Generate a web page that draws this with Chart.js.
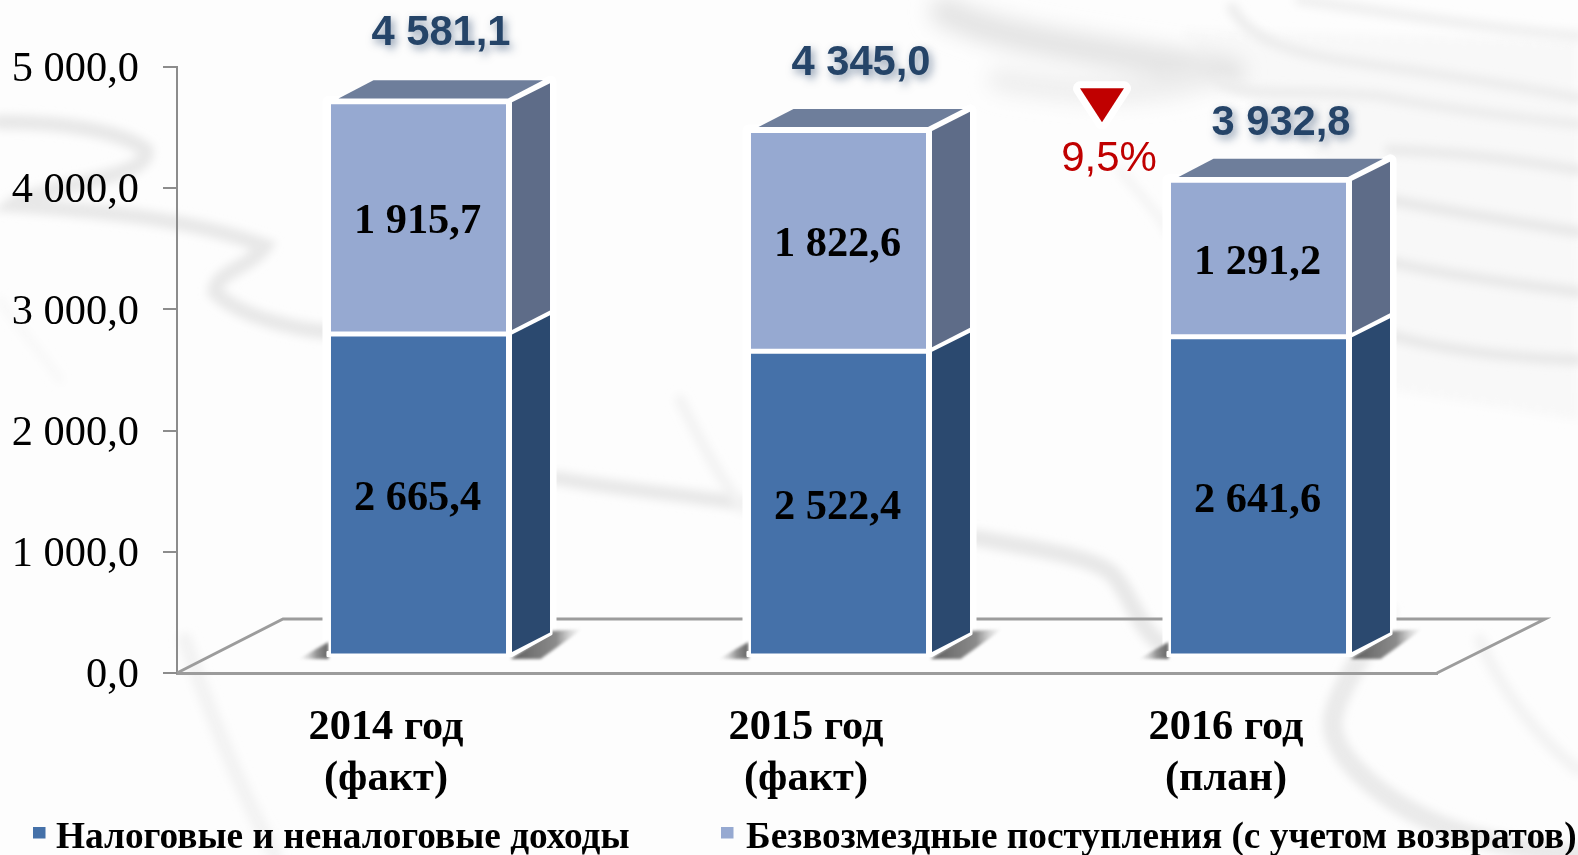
<!DOCTYPE html>
<html lang="ru">
<head>
<meta charset="utf-8">
<title>Доходы бюджета</title>
<script src="https://cdn.jsdelivr.net/npm/chart.js@4"></script>
<style>
html,body{margin:0;padding:0;background:#fdfdfd;overflow:hidden}
#wrap{position:relative;width:1578px;height:855px}
#bg,#c{position:absolute;left:0;top:0}
</style>
</head>
<body>
<div id="wrap">
<svg id="bg" width="1578" height="855" viewBox="0 0 1578 855" xmlns="http://www.w3.org/2000/svg">
  <defs>
    <filter id="b3" x="-10%" y="-10%" width="120%" height="120%"><feGaussianBlur stdDeviation="4"/></filter>
    <filter id="b8" x="-20%" y="-40%" width="140%" height="180%"><feGaussianBlur stdDeviation="10"/></filter>
    <filter id="b1" x="-10%" y="-10%" width="120%" height="120%"><feGaussianBlur stdDeviation="5"/></filter>
    <pattern id="stripes" width="14" height="60" patternUnits="userSpaceOnUse" patternTransform="rotate(6)">
      <rect width="14" height="60" fill="#f6f6f6"/><rect x="2" width="4" height="60" fill="#fbfbfb"/><rect x="9" width="2" height="60" fill="#fafafa"/>
    </pattern>
  </defs>
  <path d="M1180 30 L1578 40 L1578 420 L1390 390 L1385 190 L1330 170 L1240 90 Z" fill="url(#stripes)" filter="url(#b1)"/>
  <g fill="none" stroke-linecap="round" filter="url(#b8)">
    <path d="M945 12 C1000 40 1100 50 1230 72" stroke="#e4e4e4" stroke-width="30"/>
    <path d="M1000 80 C1060 90 1130 100 1200 80" stroke="#eeeeee" stroke-width="24"/>
  </g>
  <g fill="none" stroke="#e8e8e8" stroke-width="11" stroke-linecap="round" filter="url(#b3)">
    <path d="M1232 8 C1250 40 1290 52 1340 60 C1420 72 1500 82 1578 98" stroke="#ededed"/>
    <path d="M1222 80 C1240 100 1300 88 1380 96 C1450 110 1520 118 1578 124" stroke="#ededed"/>
    <path d="M1390 150 C1450 152 1520 160 1578 170" stroke="#eaeaea"/>
    <path d="M1390 200 C1450 212 1520 222 1578 232"/>
    <path d="M1390 262 C1450 276 1520 284 1578 292"/>
    <path d="M1390 335 C1450 352 1520 358 1578 360"/>
    <path d="M1300 0 C1400 14 1500 30 1578 36" stroke="#f0f0f0"/>
    <path d="M0 122 C60 122 120 130 146 150 C150 170 100 178 60 188 C40 195 20 198 12 205 C80 210 180 215 265 246 C250 268 215 272 215 292 C240 318 300 330 330 332" stroke-width="15"/>
    <path d="M556 478 C620 490 690 495 745 504" stroke-width="14"/>
    <path d="M977 538 C1040 550 1085 555 1110 572 C1130 590 1135 625 1162 645" stroke-width="17"/>
    <path d="M1385 612 C1360 660 1340 690 1335 710 C1320 750 1380 800 1440 825 C1480 840 1520 850 1578 855" stroke="#eaeaea" stroke-width="20"/>
    <path d="M0 300 C20 330 40 350 60 380" stroke="#f7f7f7" stroke-width="7"/>
    <path d="M185 640 C205 700 240 790 275 855" stroke="#f3f3f3" stroke-width="15"/>
    <path d="M680 400 C700 440 720 480 745 510" stroke="#f3f3f3" stroke-width="11"/>
    <path d="M1120 170 C1140 195 1160 215 1170 235" stroke="#f4f4f4" stroke-width="9"/>
    <path d="M1480 640 C1500 690 1540 740 1578 770" stroke="#f3f3f3" stroke-width="12"/>
  </g>
</svg>
<canvas id="c" width="1578" height="855"></canvas>
</div>
<script>
const categories = [["2014 год", "(факт)"], ["2015 год", "(факт)"], ["2016 год", "(план)"]];
const taxRevenue = [2665.4, 2522.4, 2641.6];
const grants = [1915.7, 1822.6, 1291.2];
const totals = [4581.1, 4345.0, 3932.8];
const yTickLabels = ["0,0", "1 000,0", "2 000,0", "3 000,0", "4 000,0", "5 000,0"];
const seriesNames = ["Налоговые и неналоговые доходы", "Безвозмездные поступления (с учетом возвратов)"];
const changeLabel = "9,5%";

const SERIF = '"Liberation Serif","Times New Roman",serif';
const SANS = '"Liberation Sans",Arial,sans-serif';
const SHIFT = {x: 31.5, y: -16};
const SIDE_COLORS = ["#2b496f", "#5e6c88"];
const FRONT_COLORS = ["#4571a9", "#96a9d1"];
const fmt = v => { const s = v.toFixed(1).replace(".", ","); const [a, b] = s.split(","); return a.replace(/\B(?=(\d{3})+$)/g, " ") + "," + b; };

function poly(ctx, pts) {
  ctx.beginPath();
  pts.forEach((p, i) => i ? ctx.lineTo(p[0], p[1]) : ctx.moveTo(p[0], p[1]));
  ctx.closePath();
}

const scene3d = {
  id: "scene3d",
  beforeDatasetsDraw(chart) {
    const ctx = chart.ctx, a = chart.chartArea;
    // floor
    ctx.save();
    ctx.strokeStyle = "#9c9c9c"; ctx.lineWidth = 3; ctx.lineJoin = "miter";
    ctx.beginPath();
    ctx.moveTo(a.left, a.bottom);
    ctx.lineTo(a.left + 106, a.bottom - 54);
    ctx.lineTo(a.right + 108, a.bottom - 54);
    ctx.lineTo(a.right, a.bottom);
    ctx.stroke();
    ctx.restore();

    ctx.save();
    ctx.translate(SHIFT.x, SHIFT.y);
    const lower = chart.getDatasetMeta(0).data, upper = chart.getDatasetMeta(1).data;
    lower.forEach((bar, i) => {
      const L = bar.x - bar.width / 2, R = bar.x + bar.width / 2, B = bar.base;
      const T = upper[i].y;
      // white halo of the box
      ctx.strokeStyle = "#ffffff"; ctx.lineWidth = 12; ctx.lineJoin = "round";
      ctx.fillStyle = "#ffffff";
      poly(ctx, [[L, T], [R, T], [R + 42, T - 20], [R + 42, B - 26], [R + 20, B - 16], [L, B - 6]]);
      ctx.stroke(); ctx.fill();
      // ground shadows
      ctx.save();
      ctx.filter = "blur(1.5px)";
      let g = ctx.createLinearGradient(R, 0, R + 74, 0);
      g.addColorStop(0, "rgba(85,85,85,.95)"); g.addColorStop(.65, "rgba(110,110,110,.8)"); g.addColorStop(1, "rgba(190,190,190,0)");
      ctx.fillStyle = g;
      poly(ctx, [[R + 2, B + 3], [R + 43, B - 25], [R + 74, B - 27], [R + 32, B + 3]]);
      ctx.fill();
      g = ctx.createLinearGradient(L - 30, 0, L, 0);
      g.addColorStop(0, "rgba(190,190,190,0)"); g.addColorStop(.6, "rgba(120,120,120,.8)"); g.addColorStop(1, "rgba(90,90,90,.95)");
      ctx.fillStyle = g;
      poly(ctx, [[L, B - 14], [L, B + 3], [L - 30, B + 3]]);
      ctx.fill();
      ctx.restore();
      // white edge below and beside the faces
      ctx.fillStyle = "#ffffff";
      ctx.strokeStyle = "#ffffff"; ctx.lineWidth = 2; ctx.lineJoin = "round";
      poly(ctx, [[L - 1, B - 4], [L - 1, B], [R + 3, B], [R + 43, B - 22], [R + 43, B - 30], [R, B - 30]]);
      ctx.stroke(); ctx.fill();
      // side faces
      [[bar, 0], [upper[i], 1]].forEach(([el, k]) => {
        const top = el.y, bot = el.base;
        const pts = [[R + 3.5, top + .5], [R + 41.5, top - 18.6], [R + 41.5, bot - 23.5], [R + 3.5, bot - 4]];
        ctx.fillStyle = SIDE_COLORS[k];
        poly(ctx, pts); ctx.fill();
      });
      // top face
      ctx.fillStyle = "#6e7e9b";
      poly(ctx, [[L + 10, T - 3.3], [R - .5, T - 3.3], [R + 34.5, T - 21.5], [L + 45, T - 21.5]]);
      ctx.fill();
    });
    // the bars themselves are drawn by Chart.js inside this shifted frame
  },
  afterDatasetsDraw(chart) {
    const ctx = chart.ctx;
    ctx.restore();
    ctx.save();
    ctx.textAlign = "center"; ctx.textBaseline = "middle";
    // segment values
    ctx.fillStyle = "#000";
    ctx.font = "bold 42.4px " + SERIF;
    [taxRevenue, grants].forEach((vals, d) => {
      chart.getDatasetMeta(d).data.forEach((el, i) => {
        const c = el.getCenterPoint();
        ctx.fillText(fmt(vals[i]), c.x + SHIFT.x - 1, c.y + SHIFT.y + 4.5);
      });
    });
    // totals
    const upper = chart.getDatasetMeta(1).data;
    const lift = [69, 68, 58];
    ctx.font = "bold 41.7px " + SANS;
    totals.forEach((t, i) => {
      ctx.save();
      ctx.shadowColor = "rgba(30,60,100,.5)"; ctx.shadowBlur = 8; ctx.shadowOffsetX = 3; ctx.shadowOffsetY = 4;
      ctx.fillStyle = "#254468";
      ctx.fillText(fmt(t), upper[i].x + SHIFT.x + 22.5, upper[i].y + SHIFT.y - lift[i] + 1);
      ctx.restore();
    });
    // decline marker, placed between the last two columns
    const mx = (upper[1].x + upper[2].x) / 2 + 85, my = upper[2].y + SHIFT.y;
    const tri = [[mx - 22, my - 92], [mx + 22, my - 92], [mx, my - 58]];
    ctx.strokeStyle = "#fff"; ctx.lineWidth = 14; ctx.lineJoin = "round";
    poly(ctx, tri); ctx.stroke();
    ctx.fillStyle = "#c00000";
    poly(ctx, tri); ctx.fill();
    ctx.font = "42px " + SANS;
    ctx.fillText(changeLabel, mx + 7, my - 21);
    ctx.restore();
  },
  afterDraw(chart) {
    const ctx = chart.ctx;
    ctx.save();
    ctx.textBaseline = "middle"; ctx.textAlign = "left";
    ctx.font = "bold 37.3px " + SERIF;
    [[33, 56], [721, 746]].forEach(([bx, tx], i) => {
      ctx.fillStyle = FRONT_COLORS[i];
      ctx.fillRect(bx, 827, 12.5, 11.5);
      ctx.fillStyle = "#000";
      ctx.fillText(seriesNames[i], tx, 838);
    });
    ctx.restore();
  }
};

new Chart(document.getElementById("c"), {
  type: "bar",
  data: {
    labels: categories,
    datasets: [
      {label: seriesNames[0], data: taxRevenue, backgroundColor: FRONT_COLORS[0], borderColor: "#ffffff", borderWidth: 2.5, borderSkipped: false, clip: false},
      {label: seriesNames[1], data: grants, backgroundColor: FRONT_COLORS[1], borderColor: "#ffffff", borderWidth: 2.5, borderSkipped: false, clip: false}
    ]
  },
  plugins: [scene3d],
  options: {
    responsive: false,
    animation: false,
    layout: {padding: {top: 67, right: 141, left: 0, bottom: 0}},
    datasets: {bar: {barPercentage: 1, categoryPercentage: 0.4286}},
    plugins: {legend: {display: false}, tooltip: {enabled: false}, title: {display: false}},
    scales: {
      x: {
        stacked: true,
        afterFit(s) { s.height = 182; },
        grid: {display: true, drawOnChartArea: false, drawTicks: false},
        border: {color: "#9c9c9c", width: 3},
        ticks: {color: "#000", padding: 30, labelOffset: -1, maxRotation: 0, font: {family: SERIF, size: 42.4, weight: "bold", lineHeight: 1.19}}
      },
      y: {
        stacked: true,
        min: 0, max: 5000,
        afterFit(s) { s.width = 177; },
        grid: {drawOnChartArea: false, drawTicks: true, tickLength: 14, color: "#8c8c8c", lineWidth: 2},
        border: {color: "#8c8c8c", width: 2},
        ticks: {stepSize: 1000, color: "#000", padding: 24, labelOffset: 3, font: {family: SERIF, size: 42.4},
          callback: (v, i) => yTickLabels[i]}
      }
    }
  }
});
</script>
</body>
</html>
